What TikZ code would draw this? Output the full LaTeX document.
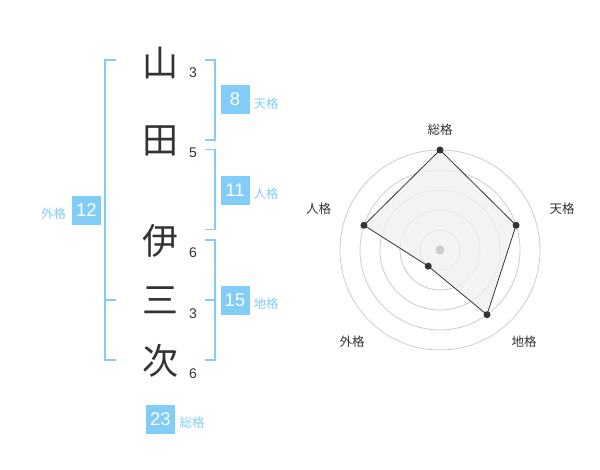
\documentclass[tikz,border=0pt]{standalone}
\usepackage{fontspec}
\setmainfont{Liberation Sans}
\newfontfamily\jp{Noto Sans CJK JP}
\definecolor{sky}{HTML}{82CDF8}
\definecolor{ink}{HTML}{333333}
\definecolor{ring}{HTML}{CCCCCC}
\definecolor{area}{HTML}{F0F0F0}
\begin{document}
\begin{tikzpicture}[x=1pt,y=-1pt,
  kanji/.style={inner sep=0pt,text=ink,font=\jp\fontsize{36}{36}\selectfont},
  strokes/.style={inner sep=0pt,text=ink,font=\fontsize{14}{14}\selectfont},
  numbox/.style={fill=sky,text=white,minimum width=29pt,minimum height=29pt,inner sep=0pt,font=\fontsize{18.5}{18.5}\selectfont},
  lbl/.style={inner sep=0pt,text=sky,font=\jp\fontsize{12.5}{12.5}\selectfont},
  bracket/.style={draw=sky,line width=1.8pt},
  rlbl/.style={inner sep=0pt,text=ink,font=\jp\fontsize{12.5}{12.5}\selectfont},
  ringline/.style={draw=ring,line width=0.8pt},
  vdot/.style={circle,fill=ink,inner sep=0pt,minimum size=7pt}]
\useasboundingbox (0,0) rectangle (600,470);
% kanji
\node[kanji] (k1) at (160.5,62.5) {山};
\node[kanji] (k2) at (160.5,140.5) {田};
\node[kanji] (k3) at (160.5,241) {伊};
\node[kanji] (k4) at (160.5,300) {三};
\node[kanji] (k5) at (160.5,361) {次};
% stroke counts
\node[strokes] (s1) at (193,72.7) {3};
\node[strokes] (s2) at (193,152.7) {5};
\node[strokes] (s3) at (193,252.7) {6};
\node[strokes] (s4) at (193,313.3) {3};
\node[strokes] (s5) at (193,373.3) {6};
% brackets
\draw[bracket] (116,60) -- (105,60) -- (105,360) -- (116,360);
\draw[bracket] (105,300) -- (116,300);
\draw[bracket] (205,60) -- (215,60) -- (215,140) -- (205,140);
\draw[bracket] (205,149.5) -- (215,149.5) -- (215,229.5) -- (205,229.5);
\draw[bracket] (205,240) -- (215,240) -- (215,360) -- (205,360);
\draw[bracket] (205,300) -- (215,300);
% boxes and labels
\node[numbox] (ten) at (235,99.5) {8};
\node[lbl] (tenl) at (266,104) {天格};
\node[numbox] (jin) at (235,190.5) {11};
\node[lbl] (jinl) at (266,194) {人格};
\node[numbox] (chi) at (235,300.5) {15};
\node[lbl] (chil) at (266,304) {地格};
\node[numbox] (gai) at (86.3,210.5) {12};
\node[lbl] (gail) at (53.5,213.5) {外格};
\node[numbox] (sou) at (160.5,419) {23};
\node[lbl] (soul) at (192,422.5) {総格};
% radar
\coordinate (c) at (440,250);
\foreach \r in {20,40,60,80,100} \draw[ringline] (c) circle (\r);
\coordinate (p1) at (440,150);
\coordinate (p2) at (516.08,225.28);
\coordinate (p3) at (487.02,314.72);
\coordinate (p4) at (428.24,266.18);
\coordinate (p5) at (363.92,225.28);
\draw[fill=area,fill opacity=0.8,draw=ink,line width=0.8pt] (p1) -- (p2) -- (p3) -- (p4) -- (p5) -- cycle;
\fill[ring] (c) circle (4.5);
\foreach \p in {p1,p2,p3,p4,p5} \node[vdot] at (\p) {};
\node[rlbl] (r1) at (440,130) {総格};
\node[rlbl] (r2) at (562,208.5) {天格};
\node[rlbl] (r3) at (524,342) {地格};
\node[rlbl] (r4) at (352,342) {外格};
\node[rlbl] (r5) at (318.5,208.5) {人格};
\end{tikzpicture}
\end{document}
